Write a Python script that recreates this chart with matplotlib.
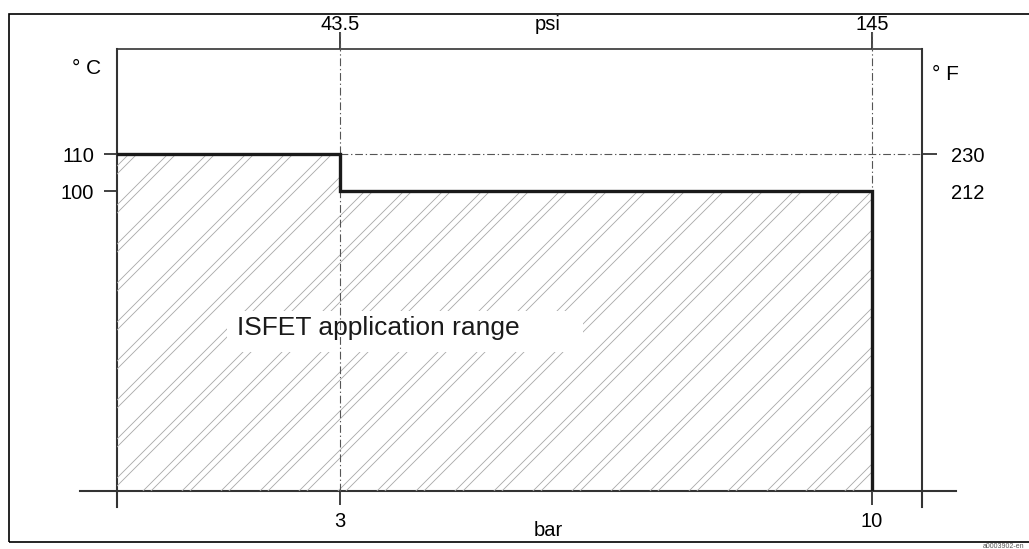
import numpy as np
from matplotlib import pyplot as plt
from matplotlib.patches import Polygon, Rectangle
from matplotlib.transforms import IdentityTransform

plt.rcParams['font.family'] = ['Liberation Sans', 'DejaVu Sans']

# data
bar_ticks = [3, 10]
psi_labels = ['43.5', '145']
temp_c = [110, 100]
temp_f = ['230', '212']
# step boundary of the application range (bar, degC)
step_bar = [0.066, 3, 3, 10, 10]
step_temp = [110, 110, 100, 100, 18.9]

W, H = 1029, 549
fig = plt.figure(figsize=(W / 100, H / 100), dpi=100)
ax = fig.add_axes([117 / W, 58 / H, 805 / W, 442 / H])
ax.set_xlim(0.066, 10.658)
ax.set_ylim(18.9, 138.4)
for s in ax.spines.values():
    s.set_visible(False)

axis_col = '#333333'
# box lines (left/right extend below bottom axis, bottom axis extends past both)
ax.plot([0, 0], [-0.036, 1], color=axis_col, lw=1.5, transform=ax.transAxes, clip_on=False)
ax.plot([1, 1], [-0.036, 1], color=axis_col, lw=1.5, transform=ax.transAxes, clip_on=False)
ax.plot([0, 1], [1, 1], color=axis_col, lw=1.2, transform=ax.transAxes, clip_on=False)
ax.plot([-0.046, 1.042], [0, 0], color=axis_col, lw=1.5, transform=ax.transAxes, clip_on=False)

# hatched application range
poly_x = [step_bar[0]] + step_bar + [step_bar[0]]
poly_y = [step_temp[-1]] + step_temp + [step_temp[-1]]
poly = Polygon(np.column_stack([poly_x, poly_y]), closed=True, facecolor='none',
               edgecolor='none', transform=ax.transData)
ax.add_patch(poly)
fig.canvas.draw()
for x0 in np.arange(-500, 1100, 39):
    for off in (0, 8):
        ln = ax.plot([x0 + off, x0 + off + 520], [0, 520], color='#a8a8a8', lw=0.6,
                     transform=IdentityTransform(), clip_on=True)[0]
        ln.set_clip_path(poly)

# white band behind the label
ax.add_patch(Rectangle((1.513, 56.5), 4.684, 11.05, facecolor='white', edgecolor='none',
                       zorder=2.5))

# step line
ax.plot(step_bar, step_temp, color='#1a1a1a', lw=2.4, solid_joinstyle='miter', zorder=5)

# dash-dot guide lines
dd = (0, (7, 2.5, 1.2, 2.5))
for b in bar_ticks:
    ax.plot([b, b], [step_temp[-1], 142.9], color='#555555', lw=0.8, linestyle=dd,
            clip_on=False, zorder=3)
ax.plot([bar_ticks[0], 10.658], [temp_c[0], temp_c[0]], color='#555555', lw=0.8,
        linestyle=dd, zorder=3)

# ticks
ax.set_xticks(bar_ticks)
ax.set_xticklabels([str(b) for b in bar_ticks])
ax.set_yticks(temp_c)
ax.set_yticklabels([str(t) for t in temp_c])
ax.tick_params(axis='x', direction='out', length=10, width=1.3, color=axis_col,
               labelsize=14.5, pad=5, top=True, labeltop=False)
ax.tick_params(axis='y', direction='out', length=9.5, width=1.3, color=axis_col,
               labelsize=14.5, pad=7)
for t in ax.xaxis.get_major_ticks():
    t.tick2line.set_markersize(12)

top = ax.secondary_xaxis('top')
top.set_xticks(bar_ticks)
top.set_xticklabels(psi_labels)
top.tick_params(length=0, labelsize=14.5, pad=11)
top.spines['top'].set_visible(False)

right = ax.twinx()
right.set_ylim(ax.get_ylim())
right.set_yticks(temp_c)
right.set_yticklabels(temp_f)
right.tick_params(direction='out', length=11, width=1.3, color=axis_col, labelsize=14.5, pad=10)
right.yaxis.get_major_ticks()[1].tick2line.set_visible(False)
for s in right.spines.values():
    s.set_visible(False)

# unit labels
fig.text(548 / W, 1 - 25 / H, 'psi', ha='center', va='center', fontsize=14.5)
fig.text(548 / W, 1 - 530 / H, 'bar', ha='center', va='center', fontsize=14.5)
fig.text(87 / W, 1 - 69 / H, '° C', ha='center', va='center', fontsize=15)
fig.text(945 / W, 1 - 75 / H, '° F', ha='center', va='center', fontsize=15)

ax.text(1.645, 62.9, 'ISFET application range', fontsize=19, ha='left', va='center',
        color='#1a1a1a', zorder=6)

# outer frame
fig.patches.append(Rectangle((9 / W, 7 / H), 1.2, 528 / H, transform=fig.transFigure,
                             facecolor='none', edgecolor='black', lw=1.2, figure=fig))
fig.text(983 / W, 1 - 547 / H, 'a0003902-en', fontsize=5, color='#555555', va='center')

plt.savefig('out.png', dpi=100)
